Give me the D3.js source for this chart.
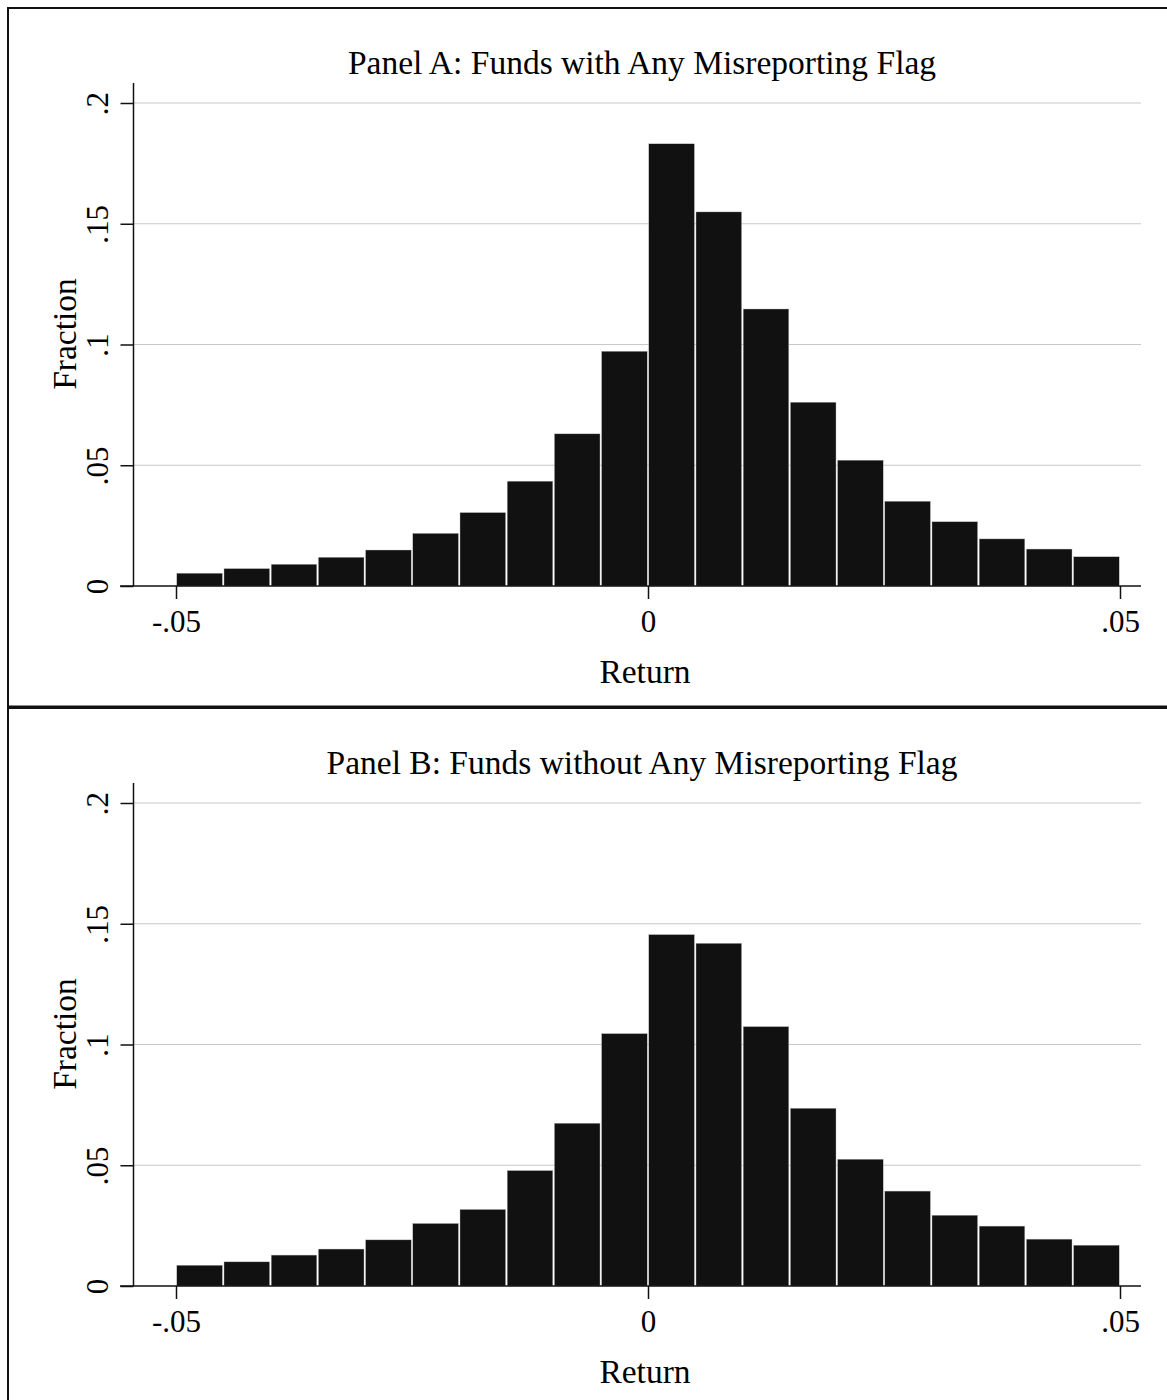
<!DOCTYPE html>
<html lang="en">
<head>
    <meta charset="UTF-8">
    <title>Return distributions</title>
    <script src="https://d3js.org/d3.v7.min.js"></script>
    <style>
        body{
            margin: 0;
            background-color: white;
        }
        text{
            font-family: "Liberation Serif", "Times New Roman", serif;
            fill: black;
        }
    </style>
</head>
<body>

<svg id="canvas" width="1167" height="1400"></svg>

<script>
    // bin edges of the histogram (Return)
    let binEdges = [-0.05, -0.045, -0.04, -0.035, -0.03, -0.025, -0.02, -0.015, -0.01, -0.005,
        0, 0.005, 0.01, 0.015, 0.02, 0.025, 0.03, 0.035, 0.04, 0.045, 0.05];

    // fraction in each bin
    let panelA = [0.0053, 0.0072, 0.0090, 0.0119, 0.0149, 0.0218, 0.0304, 0.0434, 0.0630, 0.0972,
        0.1831, 0.1549, 0.1147, 0.0761, 0.0521, 0.0351, 0.0266, 0.0195, 0.0153, 0.0121];
    let panelB = [0.0086, 0.0100, 0.0128, 0.0153, 0.0191, 0.0259, 0.0317, 0.0478, 0.0674, 0.1045,
        0.1455, 0.1419, 0.1074, 0.0736, 0.0525, 0.0393, 0.0293, 0.0248, 0.0194, 0.0169];

    let titles = ["Panel A: Funds with Any Misreporting Flag", "Panel B: Funds without Any Misreporting Flag"];

    let xTicks = [-0.05, 0, 0.05];
    let xTickLabels = ["-.05", "0", ".05"];
    let yTicks = [0, 0.05, 0.1, 0.15, 0.2];
    let yTickLabels = ["0", ".05", ".1", ".15", ".2"];

    let svg = d3.select('svg');
    let tickFont = 31;
    let labelFont = 33.5;

    let x = d3.scaleLinear().domain([-0.05, 0.05]).range([176, 1120]);
    let y = d3.scaleLinear().domain([0, 0.2]).range([586, 103]);

    function drawPanel(values, title, top){
        let g = svg.append('g').attr("transform", "translate(0," + top + ")");

        // panel frame
        g.append('rect')
            .attr("x", 8).attr("y", 8)
            .attr("width", 1175).attr("height", 698.5)
            .attr("fill", "none")
            .attr("stroke", "#111")
            .attr("stroke-width", 2);

        // gridlines
        g.selectAll('line.grid')
            .data(yTicks.filter(function (d){return d > 0}))
            .enter()
            .append('line')
            .attr("class", "grid")
            .attr("x1", 133.5).attr("x2", 1141)
            .attr("y1", function (d){return y(d)})
            .attr("y2", function (d){return y(d)})
            .attr("stroke", "#c8c8c8")
            .attr("stroke-width", 1.2);

        // bars
        g.selectAll('rect.bar')
            .data(values)
            .enter()
            .append('rect')
            .attr("class", "bar")
            .attr("x", function (d, i){return x(binEdges[i]) + 0.8})
            .attr("width", function (d, i){return x(binEdges[i + 1]) - x(binEdges[i]) - 1.6})
            .attr("y", function (d){return y(d)})
            .attr("height", function (d){return y(0) - y(d)})
            .attr("fill", "#111")
            .attr("stroke", "#bbb")
            .attr("stroke-width", 0.4);

        // y axis
        let yAxis = d3.axisLeft(y)
            .tickValues(yTicks)
            .tickSize(13)
            .tickPadding(0)
            .tickFormat(function (d, i){return yTickLabels[i]});
        let ya = g.append('g')
            .attr("transform", "translate(133.5,0)")
            .call(yAxis);
        ya.select('.domain').remove();
        ya.selectAll('.tick line').attr("stroke", "#111").attr("stroke-width", 1.5);
        ya.selectAll('.tick text')
            .attr("x", null).attr("dy", null)
            .attr("transform", "translate(-25.5,0) rotate(-90)")
            .attr("text-anchor", "middle")
            .style("font-size", tickFont + "px");
        g.append('line')
            .attr("x1", 133.5).attr("x2", 133.5)
            .attr("y1", 83).attr("y2", 586)
            .attr("stroke", "#111").attr("stroke-width", 1.5);

        // x axis
        let xAxis = d3.axisBottom(x)
            .tickValues(xTicks)
            .tickSize(13)
            .tickPadding(0)
            .tickFormat(function (d, i){return xTickLabels[i]});
        let xa = g.append('g')
            .attr("transform", "translate(0,586)")
            .call(xAxis);
        xa.select('.domain').remove();
        xa.selectAll('.tick line').attr("stroke", "#111").attr("stroke-width", 1.5);
        xa.selectAll('.tick text')
            .attr("y", 46).attr("dy", null)
            .style("font-size", tickFont + "px");
        g.append('line')
            .attr("x1", 120).attr("x2", 1141)
            .attr("y1", 586).attr("y2", 586)
            .attr("stroke", "#111").attr("stroke-width", 1.5);

        // titles and labels
        g.append('text')
            .attr("x", 642).attr("y", 74)
            .attr("text-anchor", "middle")
            .style("font-size", labelFont + "px")
            .text(title);
        g.append('text')
            .attr("x", 645).attr("y", 683)
            .attr("text-anchor", "middle")
            .style("font-size", labelFont + "px")
            .text("Return");
        g.append('text')
            .attr("transform", "translate(76,334) rotate(-90)")
            .attr("text-anchor", "middle")
            .style("font-size", labelFont + "px")
            .text("Fraction");
    }

    drawPanel(panelA, titles[0], 0);
    drawPanel(panelB, titles[1], 700);
</script>

</body>
</html>
